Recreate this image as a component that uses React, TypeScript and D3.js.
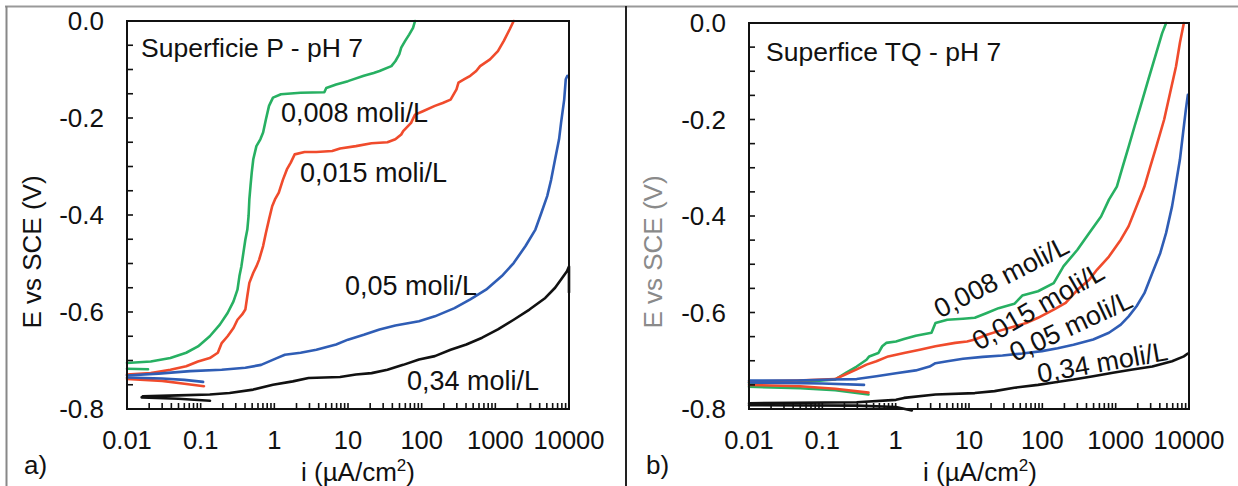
import React from 'react';
import * as d3 from 'd3';

type Pt = [number, number];

const W = 1238;
const H = 486;

const concentrationLabels = ['0,008 moli/L', '0,015 moli/L', '0,05 moli/L', '0,34 moli/L'];
const seriesColors = ['#27b062', '#f04b2c', '#2f5db5', '#111111'];

const xTickValues = [0.01, 0.1, 1, 10, 100, 1000, 10000];
const xTickLabels = ['0.01', '0.1', '1', '10', '100', '1000', '10000'];
const yTickValues = [0, -0.2, -0.4, -0.6, -0.8];
const yTickLabels = ['0.0', '-0.2', '-0.4', '-0.6', '-0.8'];

// ---- Panel a) Superficie P - pH 7 : [i (µA/cm2), E (V)]
const aGreenMain: Pt[] = [[0.01,-0.705],[0.021,-0.702],[0.0388,-0.695],[0.0636,-0.684],[0.092,-0.671],[0.133,-0.65],[0.182,-0.626],[0.232,-0.602],[0.279,-0.578],[0.316,-0.554],[0.336,-0.526],[0.357,-0.506],[0.38,-0.478],[0.404,-0.451],[0.43,-0.43],[0.447,-0.402],[0.458,-0.368],[0.475,-0.34],[0.493,-0.313],[0.518,-0.285],[0.571,-0.258],[0.646,-0.244],[0.704,-0.23],[0.768,-0.203],[0.847,-0.175],[0.959,-0.158],[1.23,-0.151],[2.27,-0.148],[4.77,-0.147],[5.07,-0.138],[6.9,-0.131],[9.98,-0.124],[16.4,-0.113],[22.3,-0.107],[26.8,-0.103],[38.8,-0.093],[43.9,-0.083],[49.6,-0.069],[52.8,-0.055],[59.7,-0.041],[67.6,-0.028],[76.4,-0.014],[81.3,0]];
const aGreenTail: Pt[] = [[0.01,-0.717],[0.0193,-0.718]];
const aRedMain: Pt[] = [[0.01,-0.729],[0.021,-0.726],[0.0388,-0.719],[0.0636,-0.712],[0.092,-0.702],[0.133,-0.695],[0.171,-0.684],[0.193,-0.664],[0.232,-0.65],[0.279,-0.633],[0.316,-0.616],[0.366,-0.605],[0.404,-0.595],[0.43,-0.567],[0.458,-0.54],[0.518,-0.519],[0.571,-0.506],[0.622,-0.492],[0.704,-0.464],[0.768,-0.437],[0.847,-0.409],[0.935,-0.382],[1.02,-0.368],[1.15,-0.354],[1.23,-0.34],[1.31,-0.327],[1.48,-0.306],[1.67,-0.292],[1.89,-0.275],[2.57,-0.27],[3.72,-0.27],[6.1,-0.268],[7.8,-0.263],[12.8,-0.258],[20.9,-0.252],[34.3,-0.25],[43.9,-0.244],[52.8,-0.234],[56.1,-0.227],[71.8,-0.21],[81.3,-0.193],[104,-0.186],[151,-0.175],[193,-0.169],[247,-0.162],[297,-0.141],[316,-0.127],[380,-0.12],[457,-0.113],[550,-0.103],[622,-0.093],[847,-0.079],[1084,-0.062],[1304,-0.041],[1568,-0.017],[1774,0]];
const aRedTail: Pt[] = [[0.01,-0.738],[0.03,-0.742],[0.06,-0.748],[0.111,-0.753]];
const aBlueMain: Pt[] = [[0.01,-0.731],[0.0268,-0.727],[0.072,-0.722],[0.193,-0.719],[0.404,-0.715],[0.662,-0.709],[1.08,-0.695],[1.39,-0.688],[2.27,-0.684],[3.72,-0.678],[6.9,-0.667],[9.98,-0.657],[16.4,-0.647],[26.8,-0.636],[43.9,-0.628],[92,-0.619],[151,-0.609],[279,-0.592],[457,-0.574],[748,-0.554],[1225,-0.526],[1774,-0.499],[2570,-0.464],[3499,-0.43],[4208,-0.396],[5061,-0.361],[5728,-0.327],[6476,-0.285],[7328,-0.244],[7800,-0.21],[8607,-0.162],[9040,-0.12],[9500,-0.113]];
const aBlueTail: Pt[] = [[0.01,-0.735],[0.03,-0.737],[0.06,-0.74],[0.108,-0.744]];
const aBlackMain: Pt[] = [[0.0164,-0.774],[0.0496,-0.772],[0.133,-0.77],[0.247,-0.767],[0.518,-0.76],[0.959,-0.75],[1.78,-0.743],[2.91,-0.736],[4.77,-0.735],[7.8,-0.734],[12.8,-0.729],[20.9,-0.726],[34.3,-0.719],[56.1,-0.709],[92,-0.698],[151,-0.691],[247,-0.678],[404,-0.667],[662,-0.653],[1084,-0.636],[1774,-0.616],[2904,-0.595],[4764,-0.571],[6476,-0.55],[7800,-0.533],[9380,-0.516],[10000,-0.506],[10000,-0.56]];
const aBlackTail: Pt[] = [[0.0158,-0.776],[0.05,-0.779],[0.134,-0.783]];

// ---- Panel b) Superfice TQ - pH 7
const bGreenMain: Pt[] = [[0.01,-0.746],[0.0458,-0.745],[0.149,-0.739],[0.215,-0.724],[0.294,-0.712],[0.4,-0.698],[0.436,-0.691],[0.58,-0.684],[0.656,-0.67],[0.743,-0.663],[1.01,-0.66],[1.3,-0.655],[1.88,-0.648],[3.08,-0.642],[3.49,-0.622],[5.06,-0.615],[8.3,-0.613],[12,-0.611],[17.5,-0.601],[25.3,-0.591],[41.5,-0.582],[53.2,-0.565],[87.3,-0.556],[143,-0.539],[195,-0.504],[301,-0.47],[436,-0.435],[632,-0.401],[810,-0.366],[1038,-0.339],[1250,-0.297],[1504,-0.256],[1811,-0.214],[2181,-0.173],[2795,-0.117],[3581,-0.062],[4306,-0.021],[4875,0]];
const bGreenTail: Pt[] = [[0.01,-0.754],[0.05,-0.757],[0.15,-0.761],[0.426,-0.77]];
const bRedMain: Pt[] = [[0.01,-0.743],[0.0458,-0.741],[0.149,-0.738],[0.202,-0.729],[0.294,-0.718],[0.4,-0.708],[0.546,-0.701],[0.791,-0.691],[1.3,-0.684],[2.13,-0.677],[3.49,-0.67],[6.48,-0.663],[9.4,-0.66],[12,-0.656],[17.5,-0.646],[28.6,-0.636],[41.5,-0.629],[60.2,-0.622],[87.3,-0.611],[143,-0.594],[208,-0.58],[301,-0.553],[436,-0.532],[559,-0.511],[810,-0.484],[1175,-0.449],[1504,-0.421],[1928,-0.38],[2466,-0.339],[2972,-0.297],[3581,-0.256],[4585,-0.2],[5520,-0.145],[6650,-0.09],[7520,-0.041],[8510,0]];
const bRedTail: Pt[] = [[0.01,-0.75],[0.05,-0.753],[0.15,-0.758],[0.426,-0.766]];
const bBlueMain: Pt[] = [[0.01,-0.741],[0.0458,-0.741],[0.14,-0.739],[0.294,-0.738],[0.546,-0.732],[1.01,-0.726],[1.88,-0.72],[2.9,-0.712],[3.49,-0.705],[5.06,-0.701],[8.3,-0.696],[15.4,-0.692],[28.6,-0.689],[53.2,-0.685],[98.8,-0.68],[162,-0.674],[266,-0.667],[494,-0.656],[810,-0.642],[1175,-0.625],[1504,-0.608],[1928,-0.587],[2466,-0.56],[3162,-0.518],[4053,-0.477],[4875,-0.435],[5875,-0.38],[6650,-0.332],[7520,-0.283],[8300,-0.228],[9050,-0.18],[9640,-0.149]];
const bBlueTail: Pt[] = [[0.01,-0.745],[0.1,-0.747],[0.37,-0.75]];
const bBlackMain: Pt[] = [[0.01,-0.788],[0.294,-0.786],[1.01,-0.781],[1.3,-0.777],[3.49,-0.77],[12,-0.767],[22.3,-0.763],[41.5,-0.756],[87.3,-0.75],[143,-0.745],[266,-0.739],[494,-0.732],[917,-0.725],[1702,-0.718],[3162,-0.712],[5875,-0.701],[8510,-0.691],[9640,-0.685]];
const bBlackTail: Pt[] = [[0.01,-0.792],[0.294,-0.793],[1.01,-0.796],[1.66,-0.803]];

// label anchors (data units) and rotation
const aLabelI = [1.23, 2.23, 9.1, 63];
const aLabelE = [-0.208, -0.332, -0.565, -0.761];
const aLabelAngle = [0, 0, 0, 0];
const bLabelI = [4.03, 13.7, 42.4, 90];
const bLabelE = [-0.613, -0.68, -0.703, -0.746];
const bLabelAngle = [-27, -30, -25, -10];

const FONT = '"Liberation Sans", Arial, Helvetica, sans-serif';

interface PanelProps {
  x0: number; x1: number; y0: number; y1: number;
  yLabelX: number; yTitleX: number; yTitleY: number; yTitleColor: string;
  letter: string; letterX: number; letterY: number;
  subtitle: string; subX: number; subY: number;
  xTitleX: number; xTitleY: number; xLabelY: number;
  labelSize: number;
  series: Pt[][][];
  labelI: number[]; labelE: number[]; labelAngle: number[];
}

function Panel(p: PanelProps) {
  const x = d3.scaleLog().domain([0.01, 10000]).range([p.x0, p.x1]);
  const y = d3.scaleLinear().domain([-0.8, 0]).range([p.y1, p.y0]);
  const line = d3.line<Pt>().x(d => x(d[0])).y(d => y(d[1]));
  const minorX: number[] = [];
  xTickValues.slice(0, -1).forEach(dec => {
    for (let m = 2; m <= 9; m++) minorX.push(dec * m);
  });
  const yTicksAll = d3.range(0, 17).map(k => -k * 0.05);
  const tickLen = 6;
  return (
    <g>
      {p.series.map((segs, si) => (
        <g key={si}>
          {segs.map((seg, k) => (
            <path key={k} d={line(seg) || ''} fill="none" stroke={seriesColors[si]} strokeWidth={2.6} strokeLinejoin="round" strokeLinecap="round" />
          ))}
        </g>
      ))}
      <rect x={p.x0} y={p.y0} width={p.x1 - p.x0} height={p.y1 - p.y0} fill="none" stroke="#111" strokeWidth={2} />
      {yTicksAll.map((v, k) => (
        <line key={'yt' + k} x1={p.x0} x2={p.x0 + tickLen} y1={y(v)} y2={y(v)} stroke="#111" strokeWidth={1.6} />
      ))}
      {xTickValues.concat(minorX).map((v, k) => (
        <line key={'xt' + k} x1={x(v)} x2={x(v)} y1={p.y1} y2={p.y1 - tickLen} stroke="#111" strokeWidth={1.6} />
      ))}
      {yTickValues.map((v, k) => (
        <text key={'yl' + k} x={p.yLabelX} y={y(v)} dy="0.36em" textAnchor="end" fontSize={26} fontFamily={FONT} fill="#111">{yTickLabels[k]}</text>
      ))}
      {xTickValues.map((v, k) => (
        <text key={'xl' + k} x={x(v)} y={p.xLabelY} textAnchor="middle" fontSize={25.5} fontFamily={FONT} fill="#111">{xTickLabels[k]}</text>
      ))}
      {concentrationLabels.map((t, k) => {
        const lx = x(p.labelI[k]);
        const ly = y(p.labelE[k]);
        return (
          <text key={'cl' + k} x={lx} y={ly} transform={`rotate(${p.labelAngle[k]} ${lx} ${ly})`} fontSize={p.labelSize} fontFamily={FONT} fill="#111">{t}</text>
        );
      })}
      <text x={p.subX} y={p.subY} fontSize={26.5} fontFamily={FONT} fill="#111">{p.subtitle}</text>
      <text x={p.yTitleX} y={p.yTitleY} transform={`rotate(-90 ${p.yTitleX} ${p.yTitleY})`} textAnchor="middle" fontSize={26} fontFamily={FONT} fill={p.yTitleColor}>E vs SCE (V)</text>
      <text x={p.xTitleX} y={p.xTitleY} textAnchor="middle" fontSize={26} fontFamily={FONT} fill="#111">
        i (µA/cm<tspan fontSize={17} dy={-10}>2</tspan><tspan dy={10}>)</tspan>
      </text>
      <text x={p.letterX} y={p.letterY} fontSize={26} fontFamily={FONT} fill="#111">{p.letter}</text>
    </g>
  );
}

export default function App() {
  return (
    <svg width={W} height={H} viewBox={`0 0 ${W} ${H}`} style={{ position: 'absolute', left: 0, top: 0, background: '#fff' }}>
      <rect x={0} y={0} width={W} height={H} fill="#fff" />
      <line x1={5} x2={W} y1={6.5} y2={6.5} stroke="#999" strokeWidth={2} />
      <line x1={6.5} x2={6.5} y1={6} y2={H} stroke="#888" strokeWidth={2} />
      <line x1={626} x2={626} y1={6} y2={H} stroke="#222" strokeWidth={2} />
      <Panel
        x0={127} x1={569} y0={21} y1={409}
        yLabelX={104} yTitleX={41} yTitleY={252} yTitleColor="#111"
        letter="a)" letterX={24} letterY={474}
        subtitle="Superficie P - pH 7" subX={141} subY={57}
        xTitleX={358} xTitleY={481} xLabelY={449}
        labelSize={27}
        series={[[aGreenMain, aGreenTail], [aRedMain, aRedTail], [aBlueMain, aBlueTail], [aBlackMain, aBlackTail]]}
        labelI={aLabelI} labelE={aLabelE} labelAngle={aLabelAngle}
      />
      <Panel
        x0={749} x1={1189} y0={23} y1={409}
        yLabelX={726} yTitleX={662} yTitleY={252} yTitleColor="#8a8a8a"
        letter="b)" letterX={646} letterY={474}
        subtitle="Superfice TQ - pH 7" subX={766} subY={61}
        xTitleX={980} xTitleY={481} xLabelY={449}
        labelSize={27}
        series={[[bGreenMain, bGreenTail], [bRedMain, bRedTail], [bBlueMain, bBlueTail], [bBlackMain, bBlackTail]]}
        labelI={bLabelI} labelE={bLabelE} labelAngle={bLabelAngle}
      />
    </svg>
  );
}
